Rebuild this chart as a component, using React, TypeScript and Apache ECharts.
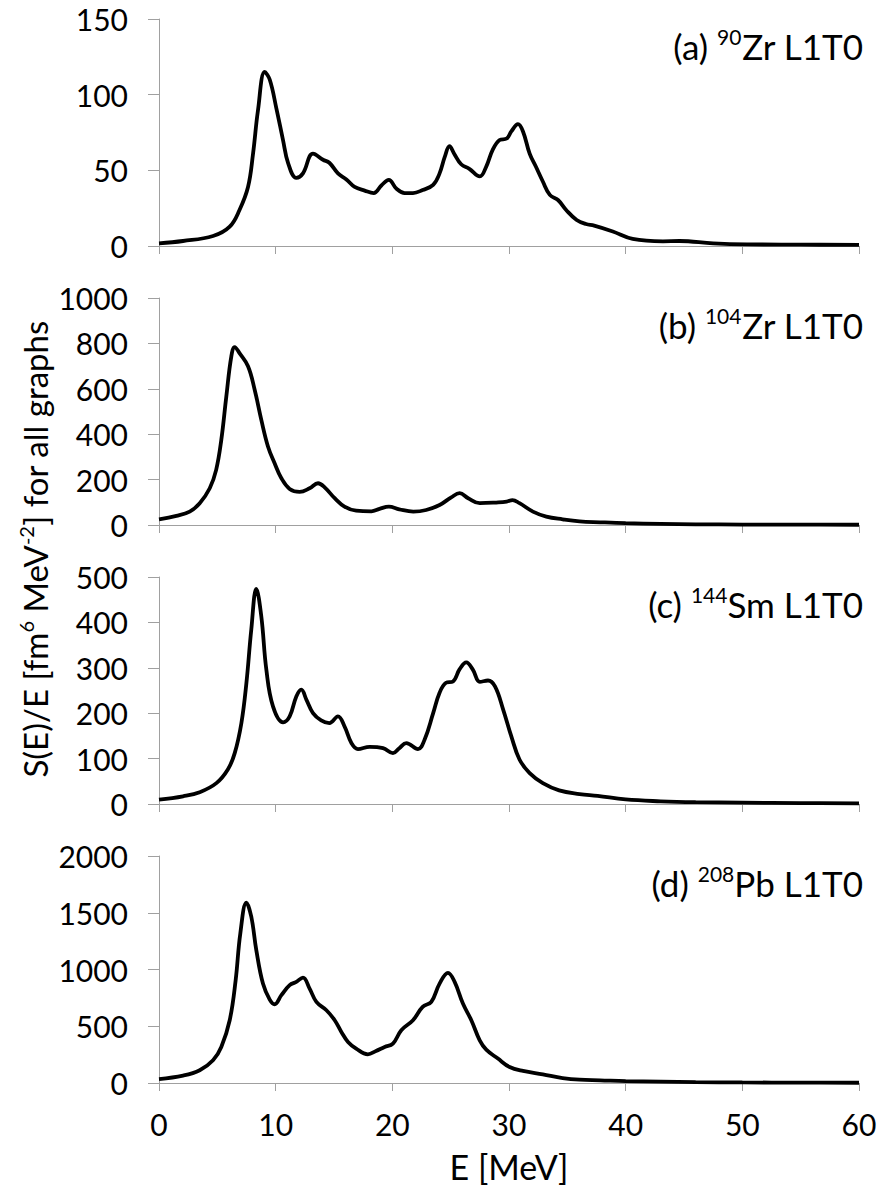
import React, { useEffect, useRef } from "react";
import * as echarts from "echarts";

// ---- Data ----
// (a) 90Zr L1T0
const energyZr90 = [0, 2.06, 4.63, 6.06, 6.9, 7.63, 8.06, 8.49, 9.06, 9.49, 10.06, 10.63, 11.06, 11.77, 12.34, 13.2, 14.06, 14.6, 15.34, 16.06, 16.77, 17.63, 18.4, 19.06, 19.7, 20.34, 21.06, 21.77, 22.6, 23.5, 24.05, 24.5, 24.9, 25.3, 25.9, 26.6, 27.5, 28.05, 28.6, 29.2, 29.8, 30.2, 30.77, 31.2, 31.77, 32.3, 32.9, 33.5, 34.2, 34.9, 35.8, 36.6, 37.3, 38.9, 40.6, 43.2, 44.6, 47.5, 50.4, 55, 60];
const strengthZr90 = [1.8, 3.3, 6.6, 12.8, 23.8, 39, 61, 90, 115, 110, 91, 70, 55, 45, 48, 61, 57, 55, 48, 44, 39, 36.6, 35, 40, 43.7, 38, 35, 35, 37, 40.4, 48, 59, 66, 61, 54, 51, 46, 52.5, 63.5, 70, 71, 75.7, 80.5, 75.7, 61, 52.5, 42.6, 33.8, 30.4, 23.8, 17.2, 14.5, 13.5, 9.6, 4.7, 3.1, 3.3, 1.8, 1.1, 0.9, 0.7];

// (b) 104Zr L1T0
const energyZr104 = [0, 1.49, 2.63, 3.49, 4.35, 4.9, 5.34, 5.77, 6.2, 6.49, 6.9, 7.63, 8.2, 8.77, 9.34, 9.91, 10.49, 11.2, 12.06, 12.91, 13.63, 14.2, 15.06, 15.9, 16.9, 18.2, 18.9, 19.7, 20.6, 21.8, 22.9, 24.05, 25.05, 25.77, 26.5, 27.5, 28.9, 29.8, 30.3, 30.9, 32.05, 33.2, 34.6, 36.05, 37.8, 40, 43, 46, 50, 55, 60];
const strengthZr104 = [25, 40, 59, 96, 162, 243, 375, 566, 743, 784, 757, 699, 596, 463, 346, 272, 206, 159, 146, 162, 184, 166, 118, 81, 63, 60, 71, 81, 69, 59, 66, 88, 122, 140, 118, 96, 99, 103, 110, 96, 59, 37, 25, 16, 12, 8, 5, 3, 2, 1.5, 1];

// (c) 144Sm L1T0
const energySm144 = [0, 2.06, 3.49, 4.92, 5.9, 6.49, 7.06, 7.49, 7.91, 8.34, 8.77, 9.2, 9.77, 10.63, 11.2, 11.77, 12.2, 12.63, 13.2, 13.9, 14.6, 15.34, 15.9, 16.5, 17.05, 18.05, 19.2, 20.05, 20.6, 21.2, 22.2, 22.77, 23.5, 24.05, 24.6, 25.2, 25.77, 26.34, 26.9, 27.5, 28.2, 28.8, 29.5, 30.2, 30.9, 31.77, 32.9, 34.3, 36.05, 37.6, 40, 43, 46, 50, 55, 60];
const strengthSm144 = [9.5, 17, 26, 46, 76, 112, 178, 266, 384, 474, 413, 296, 215, 180, 193, 237, 252, 230, 200, 184, 178, 193, 171, 134, 121, 126, 123, 112, 123, 134, 121, 142, 200, 245, 267, 270, 297, 312, 296, 269, 272, 259, 208, 149, 98, 68, 46, 30, 22, 18, 10, 6, 4, 3, 2, 1.5];

// (d) 208Pb L1T0
const energyPb208 = [0, 2.06, 3.49, 4.63, 5.34, 6.06, 6.57, 6.97, 7.49, 7.91, 8.34, 8.91, 9.49, 9.91, 10.49, 11.2, 11.77, 12.34, 12.91, 13.49, 14.35, 15.06, 15.63, 16.2, 16.9, 17.9, 18.6, 19.34, 20.05, 20.77, 21.77, 22.6, 23.34, 24.05, 24.77, 25.34, 26.05, 26.77, 27.49, 28.05, 29.05, 30.05, 31.2, 32.9, 34.6, 36.05, 37.8, 40, 43, 46, 50, 55, 60];
const strengthPb208 = [35, 65, 112, 200, 318, 553, 906, 1318, 1588, 1465, 1171, 876, 735, 694, 774, 862, 891, 929, 832, 715, 641, 553, 450, 362, 303, 253, 282, 318, 347, 465, 553, 671, 715, 876, 971, 891, 700, 553, 376, 294, 215, 141, 106, 76, 44, 29, 24, 17, 12, 8, 5, 3, 2];

// Axis settings
const xTicks = { min: 0, max: 60, interval: 10 };
const yMaxes = [150, 1000, 500, 2000];
const yIntervals = [50, 200, 100, 500];
const panelLabels = [
  "(a) {sup|90}Zr L1T0",
  "(b) {sup|104}Zr L1T0",
  "(c) {sup|144}Sm L1T0",
  "(d) {sup|208}Pb L1T0",
];
const xTitle = "E [MeV]";
const yTitle = "S(E)/E [fm{sup|6} MeV{sup|-2}] for all graphs";

const energies = [energyZr90, energyZr104, energySm144, energyPb208];
const strengths = [strengthZr90, strengthZr104, strengthSm144, strengthPb208];

const FONT = "Lato";
const AXIS_GRAY = "#a0a0a0";
const PANEL_TOPS = [19, 298, 577, 856];
const PANEL_H = 227;
const LEFT = 159;
const WIDTH = 700;

export default function App() {
  const ref = useRef<HTMLDivElement>(null);
  useEffect(() => {
    document.body.style.margin = "0";
    const chart = echarts.init(ref.current as HTMLDivElement, null, { renderer: "svg" });

    const grids = PANEL_TOPS.map((top) => ({ left: LEFT, width: WIDTH, top, height: PANEL_H }));
    const xAxes = PANEL_TOPS.map((_, i) => ({
      type: "value",
      gridIndex: i,
      min: xTicks.min,
      max: xTicks.max,
      interval: xTicks.interval,
      axisLine: { show: true, lineStyle: { color: AXIS_GRAY, width: 1 } },
      axisTick: { show: true, length: 8, lineStyle: { color: AXIS_GRAY, width: 1 } },
      axisLabel: {
        show: i === 3,
        color: "#000",
        fontFamily: FONT,
        fontSize: 30,
        margin: 26,
        formatter: (v: number) => String(v),
      },
      splitLine: { show: false },
    }));
    const yAxes = PANEL_TOPS.map((_, i) => ({
      type: "value",
      gridIndex: i,
      min: 0,
      max: yMaxes[i],
      interval: yIntervals[i],
      axisLine: { show: true, lineStyle: { color: AXIS_GRAY, width: 1 } },
      axisTick: { show: true, length: 11, lineStyle: { color: AXIS_GRAY, width: 1 } },
      axisLabel: {
        color: "#000",
        fontFamily: FONT,
        fontSize: 30,
        margin: 31,
        formatter: (v: number) => String(v),
      },
      splitLine: { show: false },
    }));
    const series = energies.map((E, i) => ({
      type: "line",
      xAxisIndex: i,
      yAxisIndex: i,
      data: E.map((e, j) => [e, strengths[i][j]]),
      showSymbol: false,
      symbol: "none",
      smooth: 0.4,
      lineStyle: { color: "#000", width: 3.8 },
      z: 3,
    }));

    const supStyle = { fontFamily: FONT, fontSize: 21, lineHeight: 21, verticalAlign: "top", fill: "#000" };
    const graphic: any[] = panelLabels.map((txt, i) => ({
      type: "text",
      x: 863,
      y: PANEL_TOPS[i] + 27,
      style: {
        text: txt,
        align: "right",
        verticalAlign: "middle",
        fill: "#000",
        fontFamily: FONT,
        fontSize: 35,
        lineHeight: 40,
        rich: { sup: supStyle },
      },
    }));
    graphic.push({
      type: "text",
      x: 509,
      y: 1166,
      style: {
        text: xTitle,
        align: "center",
        verticalAlign: "middle",
        fill: "#000",
        fontFamily: FONT,
        fontSize: 34,
      },
    });
    graphic.push({
      type: "text",
      x: 35,
      y: 549,
      rotation: Math.PI / 2,
      style: {
        text: yTitle,
        align: "center",
        verticalAlign: "middle",
        fill: "#000",
        fontFamily: FONT,
        fontSize: 33,
        lineHeight: 38,
        rich: { sup: { ...supStyle, fontSize: 20, lineHeight: 20 } },
      },
    });

    chart.setOption({
      animation: false,
      backgroundColor: "#fff",
      grid: grids,
      xAxis: xAxes,
      yAxis: yAxes,
      series,
      graphic,
    } as any);
    return () => chart.dispose();
  }, []);
  return <div ref={ref} style={{ width: 883, height: 1188 }} />;
}
